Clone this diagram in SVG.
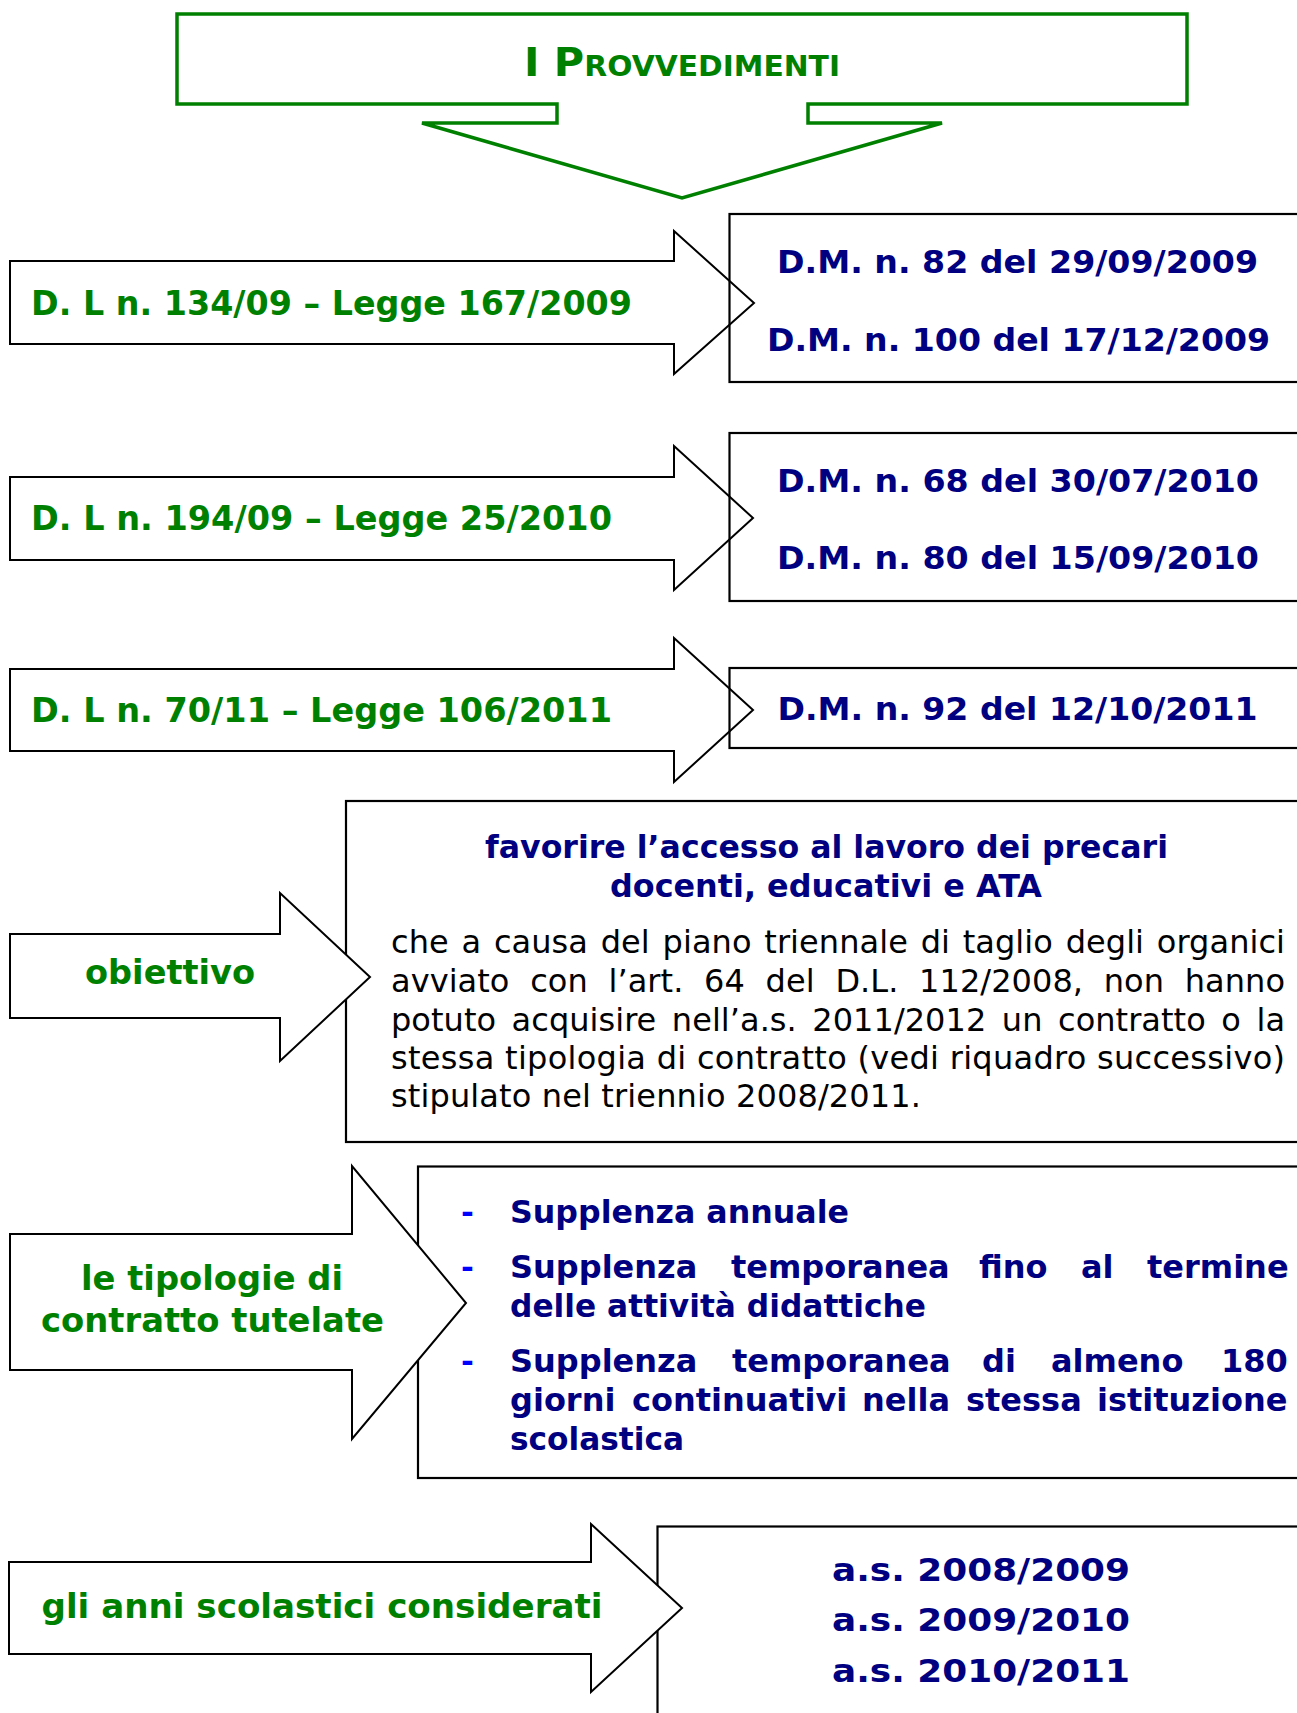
<svg xmlns="http://www.w3.org/2000/svg" width="1297" height="1713" viewBox="0 0 1297 1713">
<style>
.bg{fill:#ffffff}
.shape{fill:#ffffff;stroke:#000000;stroke-width:2}
.box{fill:none;stroke:#000000;stroke-width:2.2}
.boxw{fill:#ffffff;stroke:#000000;stroke-width:2.2}
.g{font-family:"DejaVu Sans","Verdana",sans-serif;font-weight:bold;fill:#008000;font-size:33px}
.n{font-family:"DejaVu Sans","Verdana",sans-serif;font-weight:bold;fill:#000080;font-size:32px}
.b{font-family:"DejaVu Sans","Verdana",sans-serif;fill:#000000;font-size:32px}
.d{font-family:"DejaVu Sans","Verdana",sans-serif;font-weight:bold;fill:#0000ff;font-size:31px}
.c{text-anchor:middle}
</style>
<rect class="bg" x="0" y="0" width="1297" height="1713"/>

<g id="title">
<path d="M177,14 H1187 V104 H808 V123 H942 L682,198 L422,123 H557 V104 H177 Z" fill="#ffffff" stroke="#008000" stroke-width="3.5"/>
<text class="g" x="524" y="76" textLength="316" lengthAdjust="spacingAndGlyphs"><tspan font-size="39">I P</tspan><tspan font-size="28">ROVVEDIMENTI</tspan></text>
</g>

<g id="row1-law">
<path class="shape" d="M10,261 H674 V231 L754,303 L674,374 V344 H10 Z"/>
<text class="g" x="31" y="315" textLength="601" lengthAdjust="spacingAndGlyphs">D. L n. 134/09 – Legge 167/2009</text>
</g>
<g id="row1-dm">
<rect class="box" x="729.5" y="214" width="590" height="168"/>
<text class="n" x="777" y="273" textLength="481" lengthAdjust="spacingAndGlyphs">D.M. n. 82 del 29/09/2009</text>
<text class="n" x="767" y="351" textLength="503" lengthAdjust="spacingAndGlyphs">D.M. n. 100 del 17/12/2009</text>
</g>

<g id="row2-law">
<path class="shape" d="M10,477 H674 V446 L753,518 L674,590 V560 H10 Z"/>
<text class="g" x="31" y="530" textLength="581" lengthAdjust="spacingAndGlyphs">D. L n. 194/09 – Legge 25/2010</text>
</g>
<g id="row2-dm">
<rect class="box" x="729.5" y="433" width="590" height="168"/>
<text class="n" x="777" y="492" textLength="482" lengthAdjust="spacingAndGlyphs">D.M. n. 68 del 30/07/2010</text>
<text class="n" x="777" y="568.5" textLength="482" lengthAdjust="spacingAndGlyphs">D.M. n. 80 del 15/09/2010</text>
</g>

<g id="row3-law">
<path class="shape" d="M10,669 H674 V638 L753,710 L674,782 V751 H10 Z"/>
<text class="g" x="31" y="722" textLength="581" lengthAdjust="spacingAndGlyphs">D. L n. 70/11 – Legge 106/2011</text>
</g>
<g id="row3-dm">
<rect class="box" x="729.5" y="668" width="590" height="80"/>
<text class="n" x="777.5" y="720" textLength="480" lengthAdjust="spacingAndGlyphs">D.M. n. 92 del 12/10/2011</text>
</g>

<g id="objective-box">
<rect class="boxw" x="346" y="801" width="974" height="341"/>
<text class="n" x="485" y="858" textLength="683" lengthAdjust="spacingAndGlyphs">favorire l’accesso al lavoro dei precari</text>
<text class="n" x="610" y="897" textLength="432" lengthAdjust="spacingAndGlyphs">docenti, educativi e ATA</text>
<text class="b" x="391" y="953" word-spacing="2.5" textLength="894" lengthAdjust="spacing">che a causa del piano triennale di taglio degli organici</text>
<text class="b" x="391" y="992" word-spacing="10.5" textLength="894" lengthAdjust="spacing">avviato con l’art. 64 del D.L. 112/2008, non hanno</text>
<text class="b" x="391" y="1031" word-spacing="5.3" textLength="894" lengthAdjust="spacing">potuto acquisire nell’a.s. 2011/2012 un contratto o la</text>
<text class="b" x="391" y="1069" textLength="894" lengthAdjust="spacing">stessa tipologia di contratto (vedi riquadro successivo)</text>
<text class="b" x="391" y="1107" textLength="530" lengthAdjust="spacing">stipulato nel triennio 2008/2011.</text>
</g>
<g id="objective">
<path class="shape" d="M10,934 H280 V893 L370,977 L280,1061 V1018 H10 Z"/>
<text class="g" x="85" y="984" font-size="34" textLength="170" lengthAdjust="spacingAndGlyphs">obiettivo</text>
</g>

<g id="contracts-box">
<rect class="boxw" x="418" y="1166.5" width="902" height="311.5"/>
<text class="d" x="461" y="1223">-</text>
<text class="d" x="461" y="1278">-</text>
<text class="d" x="461" y="1372">-</text>
<text class="n" x="510" y="1223" textLength="339" lengthAdjust="spacingAndGlyphs">Supplenza annuale</text>
<text class="n" y="1278"><tspan x="510">Supplenza</tspan><tspan x="731">temporanea</tspan><tspan x="979">fino</tspan><tspan x="1081">al</tspan><tspan x="1147">termine</tspan></text>
<text class="n" x="510" y="1317" textLength="416" lengthAdjust="spacingAndGlyphs">delle attività didattiche</text>
<text class="n" y="1372"><tspan x="510">Supplenza</tspan><tspan x="732">temporanea</tspan><tspan x="982">di</tspan><tspan x="1051">almeno</tspan><tspan x="1221">180</tspan></text>
<text class="n" y="1411"><tspan x="510">giorni</tspan><tspan x="632">continuativi</tspan><tspan x="862">nella</tspan><tspan x="966">stessa</tspan><tspan x="1097">istituzione</tspan></text>
<text class="n" x="510" y="1450" textLength="174" lengthAdjust="spacingAndGlyphs">scolastica</text>
</g>
<g id="contracts">
<path class="shape" d="M10,1234 H352 V1166 L466,1303 L352,1439 V1370 H10 Z"/>
<text class="g c" x="212" y="1290" font-size="34" textLength="262" lengthAdjust="spacingAndGlyphs">le tipologie di</text>
<text class="g c" x="212.5" y="1332" font-size="34" textLength="343" lengthAdjust="spacingAndGlyphs">contratto tutelate</text>
</g>

<g id="years-box">
<rect class="boxw" x="657.5" y="1526.5" width="662" height="200"/>
<text class="n" x="832" y="1581" textLength="298" lengthAdjust="spacingAndGlyphs">a.s. 2008/2009</text>
<text class="n" x="832" y="1631" textLength="298" lengthAdjust="spacingAndGlyphs">a.s. 2009/2010</text>
<text class="n" x="832" y="1682" textLength="298" lengthAdjust="spacingAndGlyphs">a.s. 2010/2011</text>
</g>
<g id="years">
<path class="shape" d="M9,1562 H591 V1524 L682,1608 L591,1692 V1654 H9 Z"/>
<text class="g" x="41.5" y="1618" textLength="561" lengthAdjust="spacingAndGlyphs">gli anni scolastici considerati</text>
</g>

<g id="connectors"></g>
</svg>
